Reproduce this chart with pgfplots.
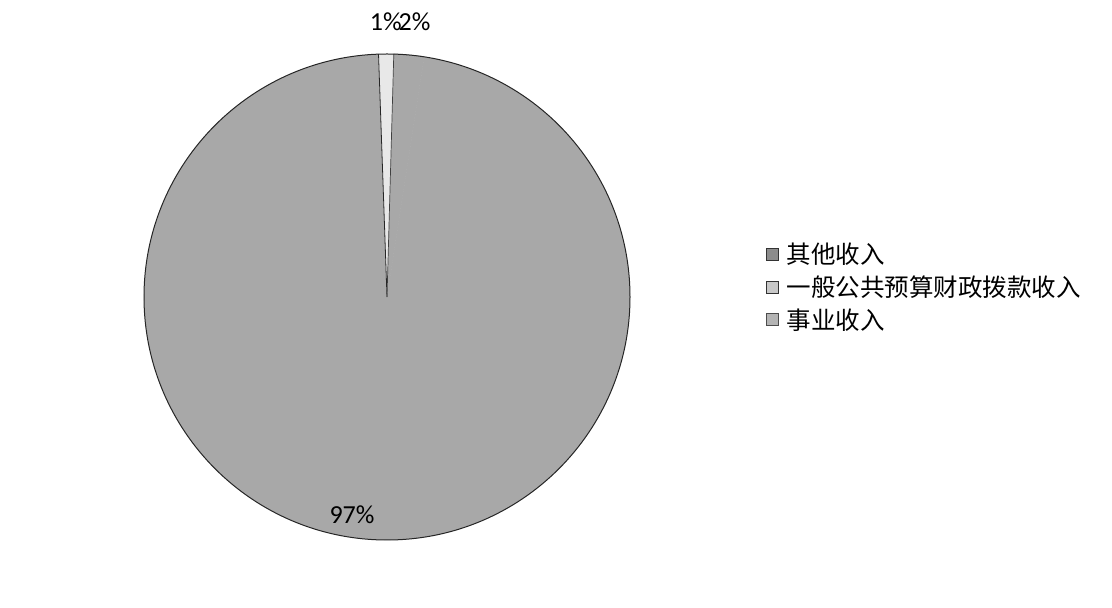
\documentclass[border=0pt]{standalone}
\usepackage{pgfplots}
\usepackage{pgfplotstable}
\pgfplotsset{compat=1.18}
\usepackage{fontspec}
\setmainfont{Carlito}
\newfontfamily\cjk{Noto Sans CJK SC}
\definecolor{pieA}{HTML}{E8E8E8}
\definecolor{pieB}{HTML}{A8A8A8}
\definecolor{pieC}{HTML}{A8A8A8}
\definecolor{legA}{HTML}{8C8C8C}
\definecolor{legB}{HTML}{C8C8C8}
\definecolor{legC}{HTML}{B4B4B4}
\pgfplotstableread{
idx value
0 1
1 2
2 97
}\piedata
\begin{document}
\begin{tikzpicture}
\useasboundingbox (0,0) rectangle (1112pt,608pt);
\pgfplotstablegetelem{0}{value}\of\piedata \let\va\pgfplotsretval
\pgfplotstablegetelem{1}{value}\of\piedata \let\vb\pgfplotsretval
\pgfplotstablegetelem{2}{value}\of\piedata \let\vc\pgfplotsretval
\pgfmathsetmacro\aS{92.0}
\pgfmathsetmacro\aA{\aS-3.6*\va}
\pgfmathsetmacro\aB{\aA-3.6*\vb}
\pgfmathsetmacro\aC{\aB-3.6*\vc}
\begin{axis}[
  at={(119.7pt,43.7pt)}, anchor=south west,
  scale only axis, width=534.6pt, height=534.6pt,
  xmin=-1.1, xmax=1.1, ymin=-1.1, ymax=1.1,
  axis lines=none, clip=false,
  legend style={at={(axis cs:1.56,0.041)}, anchor=west, draw=none, fill=none,
    font=\cjk\fontsize{24.5}{28}\selectfont, row sep=6.5pt, inner sep=0pt,
    legend cell align=left},
  legend image code/.code={\draw[#1] (0pt,-6pt) rectangle (12pt,6pt); \path[draw=none] (0pt,0pt) (18pt,0pt);},
]
\addlegendimage{fill=legA, draw=black!80, line width=0.8pt}
\addlegendentry{其他收入}
\addlegendimage{fill=legB, draw=black!80, line width=0.8pt}
\addlegendentry{一般公共预算财政拨款收入}
\addlegendimage{fill=legC, draw=black!70, line width=0.8pt}
\addlegendentry{事业收入}
\fill[pieC] (axis cs:0,0) -- (axis cs:{cos(\aB)},{sin(\aB)}) arc[start angle=\aB, end angle=\aC, radius=243pt] -- cycle;
\path[fill=pieB, draw=pieB, line width=0.8pt] (axis cs:0,0) -- (axis cs:{cos(\aA)},{sin(\aA)}) arc[start angle=\aA, end angle=\aB, radius=243pt] -- cycle;
\fill[pieA] (axis cs:0,0) -- (axis cs:{cos(\aS)},{sin(\aS)}) arc[start angle=\aS, end angle=\aA, radius=243pt] -- cycle;
\draw[black!85, line width=0.8pt] (axis cs:0,0) -- (axis cs:{cos(\aS)},{sin(\aS)});
\draw[black!75, line width=0.7pt] (axis cs:0,0) -- (axis cs:{cos(\aA)},{sin(\aA)});
\draw[black!85, line width=1pt] (axis cs:0,0) circle[radius=243pt];
\node[font=\fontsize{26}{30}\selectfont] at (axis cs:-0.005,1.132) {1\%};
\node[font=\fontsize{26}{30}\selectfont] at (axis cs:0.113,1.132) {2\%};
\node[font=\fontsize{26}{30}\selectfont] at (axis cs:-0.144,-0.897) {97\%};
\end{axis}
\end{tikzpicture}
\end{document}
